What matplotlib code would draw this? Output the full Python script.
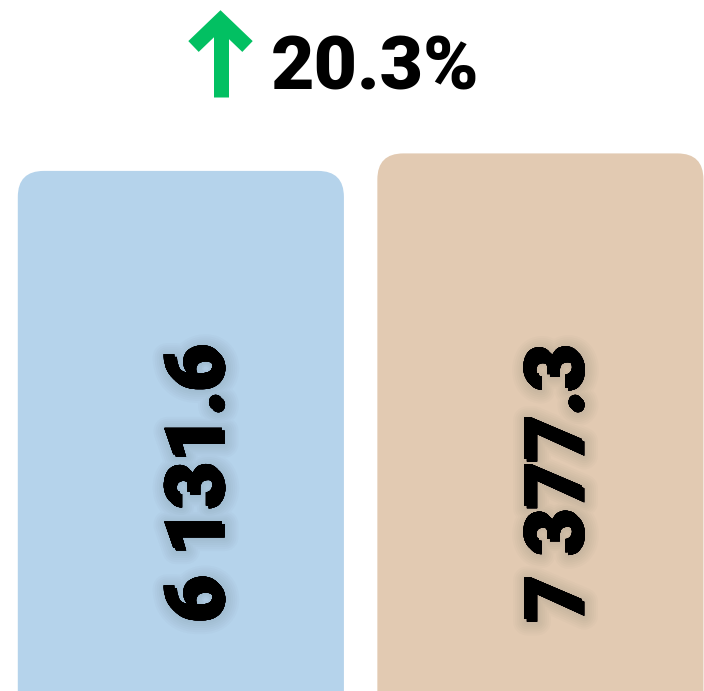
import matplotlib
matplotlib.use('Agg')
import matplotlib.pyplot as plt
import matplotlib.patheffects as pe
from matplotlib.patches import FancyBboxPatch
from matplotlib.lines import Line2D

categories = ['Before', 'After']
values = [6131.6, 7377.3]
labels = ['6 131.6', '7 377.3']
change_label = '20.3%'
colors = ['#B5D3EB', '#E2CAB2']

W, H = 704, 691
fig = plt.figure(figsize=(W / 100, H / 100), dpi=100)
ax = fig.add_axes([0, 0, 1, 1])
ax.set_xlim(-0.503, 1.455)
ax.set_ylim(-30900, 18300)
ax.axis('off')

bar_w = 0.907
floor = -40000
# data units per pixel, used to keep rounded corners circular
xpp = (1.455 + 0.503) / W
ypp = (18300 + 30900) / H
radius_px = 26

# soft blurred shadow from stacked translucent strokes
shadow = [pe.withStroke(linewidth=lw, foreground=(0.2, 0.2, 0.25, 0.02), offset=(2, -2))
          for lw in (20, 17, 14, 11, 8, 5, 2)] + [pe.Normal()]

for i, (v, lab, c) in enumerate(zip(values, labels, colors)):
    box = FancyBboxPatch((i - bar_w / 2, floor), bar_w, v - floor,
                         boxstyle=f'round,pad=0,rounding_size={radius_px * xpp}',
                         mutation_aspect=ypp / xpp, facecolor=c, edgecolor='none')
    ax.add_patch(box)
    ax.text(i + 19 * xpp, 6131.6 - (621 - 171) * ypp, lab, rotation=90,
            ha='center', va='bottom', fontsize=58, fontweight='black',
            family=['Roboto', 'DejaVu Sans'], color='black', path_effects=shadow)

# green arrow
def fp(x, y):
    return x / W, 1 - y / H

green = '#02C062'
lw = 15 * 72 / 100
xs, ys = zip(fp(220.5, 97), fp(220.5, 24))
fig.add_artist(Line2D(xs, ys, color=green, lw=lw, solid_capstyle='butt'))
xs, ys = zip(fp(193.5, 46.5), fp(220.5, 20.6), fp(247.5, 46.5))
fig.add_artist(Line2D(xs, ys, color=green, lw=lw, solid_capstyle='butt',
                      solid_joinstyle='miter'))

fig.text(*fp(271, 90), change_label, ha='left', va='baseline', fontsize=54,
         fontweight='black', family=['Roboto', 'DejaVu Sans'], color='black')

fig.savefig('out.png', dpi=100)
